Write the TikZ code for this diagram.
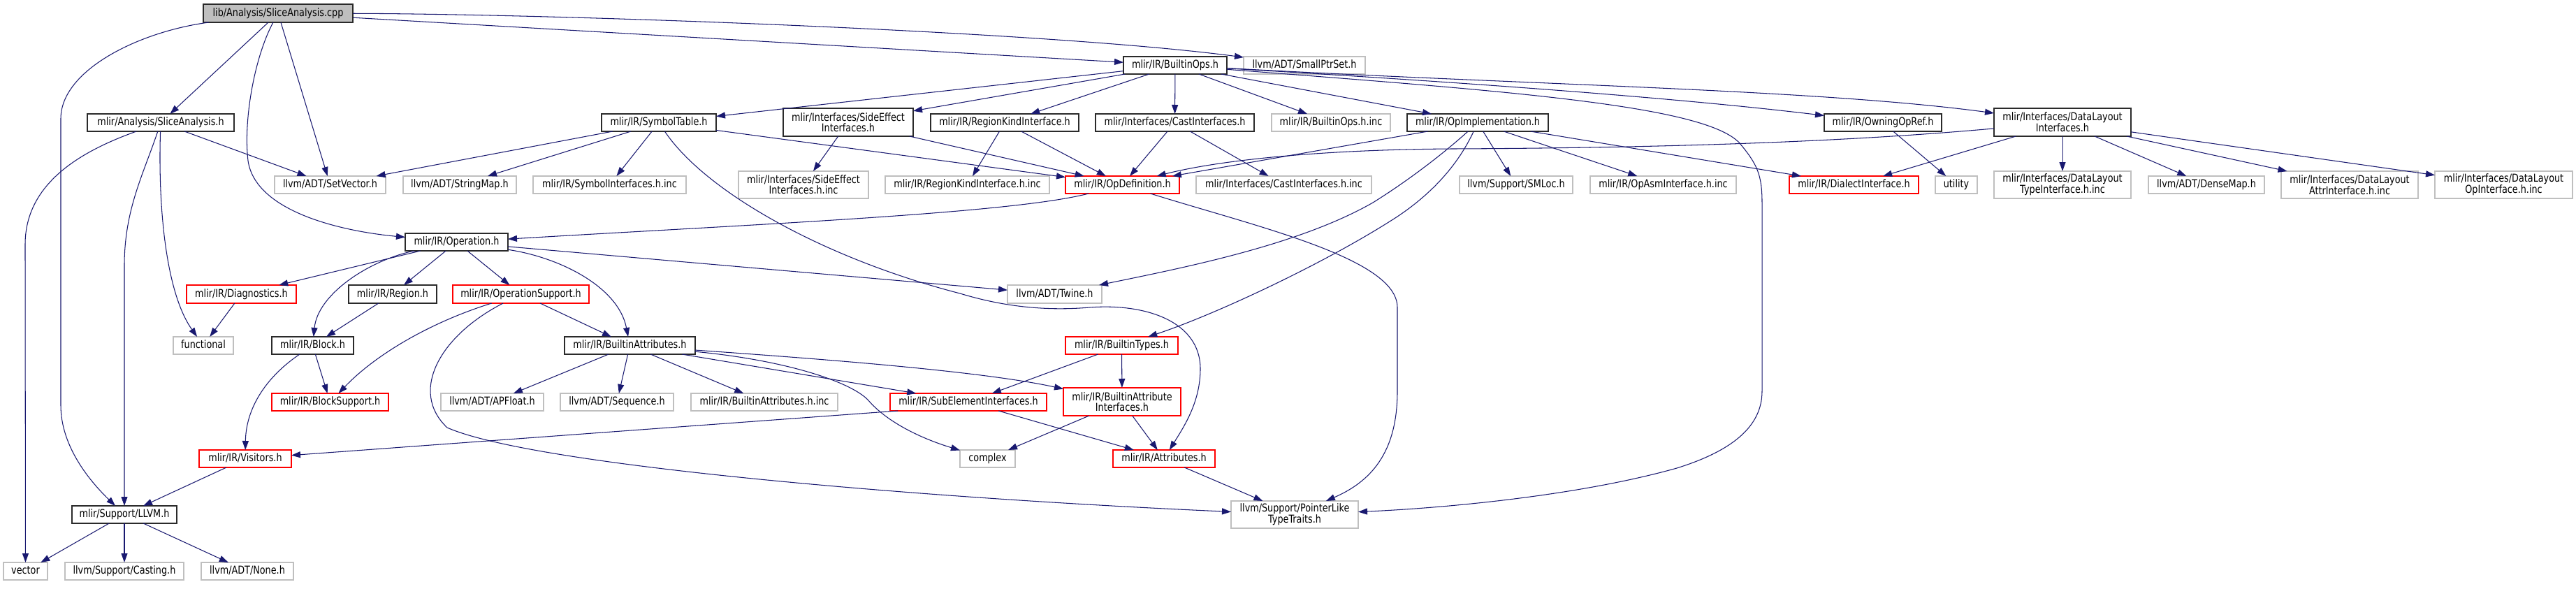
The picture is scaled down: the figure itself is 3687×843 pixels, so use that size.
\documentclass[tikz,border=0pt]{standalone}
\usepackage{fontspec}
\setmainfont{DejaVu Sans}[FakeStretch=0.82]
\usetikzlibrary{arrows.meta}
\definecolor{edgec}{HTML}{191970}
\definecolor{greyc}{HTML}{BFBFBF}
\definecolor{redc}{HTML}{FF0000}
\definecolor{blkc}{HTML}{2A2A2A}
\newcommand{\GNode}[7]{\node[#1, minimum width={(#4-#3)*1pt}, minimum height={(#6-#5)*1pt}] (#2) at ({(#3+#4)/2},{(#5+#6)/2}) {#7};}
\tikzset{
  base/.style={rectangle, inner sep=0pt, outer sep=0pt, line width=1.4pt, text=black, fill=white},
  nblack/.style={base, draw=blkc},
  ngrey/.style={base, draw=greyc},
  nred/.style={base, draw=redc},
  nroot/.style={base, draw=blkc, fill=greyc},
  one/.style={text height=11.8pt, text depth=3.6pt},
  two/.style={align=center},
  dep/.style={draw=edgec, line width=1.05pt, -{Triangle[length=13pt,width=9pt]}, fill=none},
}
\begin{document}
\begin{tikzpicture}[x=1pt, y=-1pt, font=\fontsize{15.6pt}{15pt}\selectfont]
\fill[white] (0,0) rectangle (3687,843);
\useasboundingbox (0,0) rectangle (3687,843);
% ---- nodes
\GNode{nroot,one}{cpp}{291}{505}{6}{32}{lib/Analysis/SliceAnalysis.cpp}
\GNode{nblack,one}{bops}{1608}{1756}{81}{106}{mlir/IR/BuiltinOps.h}
\GNode{ngrey,one}{smallptr}{1780}{1954}{81}{106}{llvm/ADT/SmallPtrSet.h}
\GNode{nblack,one}{sah}{125}{335}{163}{188}{mlir/Analysis/SliceAnalysis.h}
\GNode{nblack,one}{symtab}{861}{1025}{163}{188}{mlir/IR/SymbolTable.h}
\GNode{nblack,two}{sideeff}{1121}{1307}{155}{195}{mlir/Interfaces/SideEffect\\Interfaces.h}
\GNode{nblack,one}{rki}{1332}{1544}{163}{188}{mlir/IR/RegionKindInterface.h}
\GNode{nblack,one}{cast}{1568}{1795}{163}{188}{mlir/Interfaces/CastInterfaces.h}
\GNode{ngrey,one}{bopsinc}{1820}{1990}{163}{188}{mlir/IR/BuiltinOps.h.inc}
\GNode{nblack,one}{opimpl}{2014}{2216}{163}{188}{mlir/IR/OpImplementation.h}
\GNode{nblack,one}{owning}{2611}{2779}{163}{188}{mlir/IR/OwningOpRef.h}
\GNode{nblack,two}{dl}{2854}{3050}{155}{195}{mlir/Interfaces/DataLayout\\Interfaces.h}
\GNode{ngrey,one}{setvector}{393}{552}{252}{277}{llvm/ADT/SetVector.h}
\GNode{ngrey,one}{stringmap}{577}{739}{252}{277}{llvm/ADT/StringMap.h}
\GNode{ngrey,one}{symif}{763}{982}{252}{277}{mlir/IR/SymbolInterfaces.h.inc}
\GNode{ngrey,two}{sideeffinc}{1057}{1243}{245}{284}{mlir/Interfaces/SideEffect\\Interfaces.h.inc}
\GNode{ngrey,one}{rkiinc}{1267}{1502}{252}{277}{mlir/IR/RegionKindInterface.h.inc}
\GNode{nred,one}{opdef}{1525}{1688}{252}{277}{mlir/IR/OpDefinition.h}
\GNode{ngrey,one}{castinc}{1712}{1963}{252}{277}{mlir/Interfaces/CastInterfaces.h.inc}
\GNode{ngrey,one}{smloc}{2089}{2251}{252}{277}{llvm/Support/SMLoc.h}
\GNode{ngrey,one}{opasm}{2276}{2485}{252}{277}{mlir/IR/OpAsmInterface.h.inc}
\GNode{nred,one}{dialif}{2561}{2746}{252}{277}{mlir/IR/DialectInterface.h}
\GNode{ngrey,one}{utility}{2770}{2830}{252}{277}{utility}
\GNode{ngrey,two}{dltype}{2854}{3050}{245}{284}{mlir/Interfaces/DataLayout\\TypeInterface.h.inc}
\GNode{ngrey,one}{densemap}{3075}{3241}{252}{277}{llvm/ADT/DenseMap.h}
\GNode{ngrey,two}{dlattr}{3265}{3461}{245}{284}{mlir/Interfaces/DataLayout\\AttrInterface.h.inc}
\GNode{ngrey,two}{dlop}{3485}{3682}{245}{284}{mlir/Interfaces/DataLayout\\OpInterface.h.inc}
\GNode{nblack,one}{operation}{580}{727}{334}{359}{mlir/IR/Operation.h}
\GNode{nred,one}{diag}{267}{424}{408}{434}{mlir/IR/Diagnostics.h}
\GNode{nblack,one}{region}{499}{625}{408}{434}{mlir/IR/Region.h}
\GNode{nred,one}{opsupport}{648}{843}{408}{434}{mlir/IR/OperationSupport.h}
\GNode{ngrey,one}{twine}{1442}{1577}{408}{434}{llvm/ADT/Twine.h}
\GNode{ngrey,one}{functional}{248}{334}{482}{507}{functional}
\GNode{nblack,one}{block}{389}{506}{482}{507}{mlir/IR/Block.h}
\GNode{nblack,one}{battr}{808}{995}{482}{507}{mlir/IR/BuiltinAttributes.h}
\GNode{nred,one}{btypes}{1525}{1686}{482}{507}{mlir/IR/BuiltinTypes.h}
\GNode{nred,one}{bsupport}{389}{556}{563}{588}{mlir/IR/BlockSupport.h}
\GNode{ngrey,one}{apfloat}{631}{778}{563}{588}{llvm/ADT/APFloat.h}
\GNode{ngrey,one}{sequence}{802}{964}{563}{588}{llvm/ADT/Sequence.h}
\GNode{ngrey,one}{battrinc}{989}{1199}{563}{588}{mlir/IR/BuiltinAttributes.h.inc}
\GNode{nred,one}{subel}{1274}{1498}{563}{588}{mlir/IR/SubElementInterfaces.h}
\GNode{nred,two}{bai}{1522}{1690}{555}{595}{mlir/IR/BuiltinAttribute\\Interfaces.h}
\GNode{nred,one}{visitors}{285}{417}{644}{669}{mlir/IR/Visitors.h}
\GNode{ngrey,one}{complex}{1374}{1453}{644}{669}{complex}
\GNode{nred,one}{attrs}{1593}{1739}{644}{669}{mlir/IR/Attributes.h}
\GNode{nblack,one}{llvm}{103}{253}{724}{749}{mlir/Support/LLVM.h}
\GNode{ngrey,two}{plt}{1762}{1944}{717}{756}{llvm/Support/PointerLike\\TypeTraits.h}
\GNode{ngrey,one}{vector}{5}{68}{805}{830}{vector}
\GNode{ngrey,one}{casting}{93}{263}{805}{830}{llvm/Support/Casting.h}
\GNode{ngrey,one}{none}{288}{420}{805}{830}{llvm/ADT/None.h}
% ---- edges from the root
\draw[dep] (cpp) .. controls (200,45) and (87,100) .. (87,170) -- (87,580) .. controls (87,640) and (130,690) .. (llvm);
\draw[dep] (cpp) -- (sah);
\draw[dep] (cpp) -- (setvector);
\draw[dep] (cpp) .. controls (365,80) and (348,170) .. (355,230) .. controls (365,300) and (480,330) .. (operation);
\draw[dep] (cpp) -- (bops);
\draw[dep] (cpp) .. controls (800,20) and (1500,45) .. (smallptr);
% ---- SliceAnalysis.h
\draw[dep] (sah) -- (setvector);
\draw[dep] (sah) .. controls (120,215) and (36,260) .. (36,350) -- (vector);
\draw[dep] (sah) .. controls (226,300) and (238,420) .. (functional);
\draw[dep] (sah) .. controls (205,250) and (178,300) .. (178,380) -- (llvm);
% ---- SymbolTable.h
\draw[dep] (symtab) -- (setvector);
\draw[dep] (symtab) -- (stringmap);
\draw[dep] (symtab) -- (symif);
\draw[dep] (symtab) -- (opdef);
\draw[dep] (symtab) .. controls (1010,275) and (1180,370) .. (1374,420) .. controls (1440,440) and (1500,445) .. (1560,440) .. controls (1640,434) and (1718,460) .. (1718,528) .. controls (1718,575) and (1695,610) .. (attrs);
% ---- BuiltinOps.h
\draw[dep] (bops) -- (symtab);
\draw[dep] (bops) -- (sideeff);
\draw[dep] (bops) -- (rki);
\draw[dep] (bops) -- (cast);
\draw[dep] (bops) -- (bopsinc);
\draw[dep] (bops) -- (opimpl);
\draw[dep] (bops) .. controls (2100,118) and (2400,140) .. (owning);
\draw[dep] (bops) .. controls (2200,122) and (2600,128) .. (dl);
\draw[dep] (bops) .. controls (2150,130) and (2440,150) .. (2490,205) .. controls (2515,235) and (2522,250) .. (2522,290) -- (2522,560) .. controls (2522,610) and (2480,645) .. (2400,670) .. controls (2250,712) and (2050,728) .. (plt);
% ---- interfaces
\draw[dep] (sideeff) -- (sideeffinc);
\draw[dep] (sideeff) -- (opdef);
\draw[dep] (rki) -- (rkiinc);
\draw[dep] (rki) -- (opdef);
\draw[dep] (cast) -- (opdef);
\draw[dep] (cast) -- (castinc);
% ---- OpImplementation.h
\draw[dep] (opimpl) -- (opdef);
\draw[dep] (opimpl) -- (smloc);
\draw[dep] (opimpl) -- (opasm);
\draw[dep] (opimpl) -- (dialif);
\draw[dep] (opimpl) .. controls (2060,225) and (2010,262) .. (1965,290) .. controls (1860,350) and (1700,382) .. (twine);
\draw[dep] (opimpl) .. controls (2085,240) and (2045,280) .. (2000,310) .. controls (1900,375) and (1740,450) .. (btypes);
% ---- DataLayoutInterfaces.h
\draw[dep] (dl) .. controls (2600,207) and (2300,212) .. (2080,213) .. controls (1900,214) and (1750,228) .. (opdef);
\draw[dep] (dl) -- (dialif);
\draw[dep] (dl) -- (dltype);
\draw[dep] (dl) -- (densemap);
\draw[dep] (dl) -- (dlattr);
\draw[dep] (dl) -- (dlop);
\draw[dep] (owning) -- (utility);
% ---- OpDefinition.h
\draw[dep] (opdef) .. controls (1450,305) and (1100,320) .. (operation);
\draw[dep] (opdef) .. controls (1800,325) and (2000,370) .. (2000,440) -- (2000,560) .. controls (2000,650) and (1960,690) .. (plt);
% ---- Operation.h
\draw[dep] (operation) -- (diag);
\draw[dep] (operation) -- (region);
\draw[dep] (operation) -- (opsupport);
\draw[dep] (operation) -- (twine);
\draw[dep] (operation) .. controls (530,372) and (455,420) .. (block);
\draw[dep] (operation) .. controls (800,368) and (885,410) .. (battr);
\draw[dep] (diag) -- (functional);
\draw[dep] (region) -- (block);
% ---- OperationSupport.h
\draw[dep] (opsupport) .. controls (620,460) and (540,505) .. (bsupport);
\draw[dep] (opsupport) -- (battr);
\draw[dep] (opsupport) .. controls (630,480) and (585,560) .. (640,612) .. controls (760,665) and (1300,712) .. (plt);
% ---- Block.h
\draw[dep] (block) -- (bsupport);
\draw[dep] (block) .. controls (380,540) and (352,585) .. (visitors);
% ---- BuiltinAttributes.h
\draw[dep] (battr) -- (apfloat);
\draw[dep] (battr) -- (sequence);
\draw[dep] (battr) -- (battrinc);
\draw[dep] (battr) -- (subel);
\draw[dep] (battr) .. controls (1150,512) and (1400,530) .. (bai);
\draw[dep] (battr) .. controls (1120,515) and (1215,545) .. (1242,572) .. controls (1270,605) and (1320,628) .. (complex);
% ---- BuiltinTypes.h and below
\draw[dep] (btypes) -- (subel);
\draw[dep] (btypes) -- (bai);
\draw[dep] (subel) -- (attrs);
\draw[dep] ([xshift=11pt]subel.south west) -- (visitors);
\draw[dep] (bai) -- (complex);
\draw[dep] (bai) -- (attrs);
\draw[dep] (attrs) -- (plt);
\draw[dep] (visitors) -- (llvm);
\draw[dep] (llvm) -- (vector);
\draw[dep] (llvm) -- (casting);
\draw[dep] (llvm) -- (none);
\end{tikzpicture}
\end{document}
